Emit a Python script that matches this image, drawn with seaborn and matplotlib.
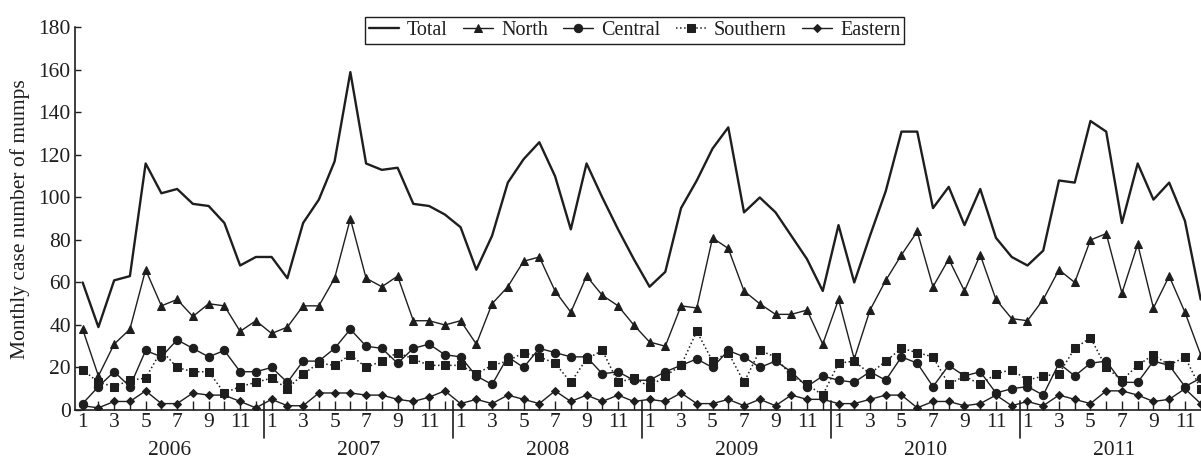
import numpy as np
import pandas as pd
import seaborn as sns
import matplotlib.pyplot as plt
import matplotlib.transforms as mtransforms

# Monthly mumps cases, Jan 2006 - Dec 2011
years = ['2006', '2007', '2008', '2009', '2010', '2011']
month_labels = ['1', '', '3', '', '5', '', '7', '', '9', '', '11', '']

total = [60, 39, 61, 63, 116, 102, 104, 97, 96, 88, 68, 72,
         72, 62, 88, 99, 117, 159, 116, 113, 114, 97, 96, 92,
         86, 66, 82, 107, 118, 126, 110, 85, 116, 100, 85, 71,
         58, 65, 95, 108, 123, 133, 93, 100, 93, 82, 71, 56,
         87, 60, 82, 103, 131, 131, 95, 105, 87, 104, 81, 72,
         68, 75, 108, 107, 136, 131, 88, 116, 99, 107, 89, 52]
north = [38, 16, 31, 38, 66, 49, 52, 44, 50, 49, 37, 42,
         36, 39, 49, 49, 62, 90, 62, 58, 63, 42, 42, 40,
         42, 31, 50, 58, 70, 72, 56, 46, 63, 54, 49, 40,
         32, 30, 49, 48, 81, 76, 56, 50, 45, 45, 47, 31,
         52, 24, 47, 61, 73, 84, 58, 71, 56, 73, 52, 43,
         42, 52, 66, 60, 80, 83, 55, 78, 48, 63, 46, 26]
central = [3, 11, 18, 11, 28, 25, 33, 29, 25, 28, 18, 18,
           20, 13, 23, 23, 29, 38, 30, 29, 22, 29, 31, 26,
           25, 16, 12, 25, 20, 29, 27, 25, 25, 17, 18, 14,
           14, 18, 21, 24, 20, 28, 25, 20, 23, 18, 11, 16,
           14, 13, 18, 14, 25, 22, 11, 21, 16, 18, 8, 10,
           11, 7, 22, 16, 22, 23, 13, 13, 23, 21, 11, 15]
southern = [19, 13, 11, 14, 15, 28, 20, 18, 18, 8, 11, 13,
            15, 10, 17, 22, 21, 26, 20, 23, 27, 24, 21, 21,
            21, 17, 21, 23, 27, 25, 22, 13, 24, 28, 13, 15,
            11, 16, 21, 37, 23, 27, 13, 28, 25, 16, 12, 7,
            22, 23, 17, 23, 29, 27, 25, 12, 16, 12, 17, 19,
            14, 16, 17, 29, 34, 20, 14, 21, 26, 21, 25, 10]
eastern = [2, 1, 4, 4, 9, 3, 3, 8, 7, 7, 4, 1,
           5, 2, 2, 8, 8, 8, 7, 7, 5, 4, 6, 9,
           3, 5, 3, 7, 5, 3, 9, 4, 7, 4, 7, 4,
           5, 4, 8, 3, 3, 5, 2, 5, 2, 7, 5, 5,
           3, 3, 5, 7, 7, 1, 4, 4, 2, 3, 7, 2,
           4, 2, 7, 5, 3, 9, 9, 7, 4, 5, 10, 3]

df = pd.DataFrame({'month': np.arange(len(total)), 'Total': total, 'North': north,
                   'Central': central, 'Southern': southern, 'Eastern': eastern})

sns.set_style('ticks')
plt.rcParams['font.family'] = ['Liberation Serif', 'DejaVu Serif']
plt.rcParams['font.size'] = 15.5
ink = '#1e1e1e'

fig = plt.figure(figsize=(12.01, 4.59), dpi=100)
ax = fig.add_axes([0.0624, 0.1068, 0.9376, 0.8333])

# series: (line style, marker, marker size, line width)
styles = {
    'Total': ('-', None, 0, 1.7),
    'North': ('-', '^', 6, 1.0),
    'Central': ('-', 'o', 6, 1.0),
    'Southern': (':', 's', 6, 1.1),
    'Eastern': ('-', 'D', 4.2, 1.0),
}
for name, (ls, mk, ms, lw) in styles.items():
    sns.lineplot(data=df, x='month', y=name, ax=ax, color=ink, linestyle=ls,
                 marker=mk, markersize=ms, markeredgecolor=ink, linewidth=lw,
                 label=name)

ax.set_xlim(-0.49, 71.02)
ax.set_ylim(0, 180)
ax.set_yticks(range(0, 181, 20))
ax.set_xticks(df['month'])
ax.set_xticklabels(month_labels * len(years))
ax.tick_params(axis='x', direction='in', length=6.5, width=1, pad=2, colors=ink)
ax.tick_params(axis='y', direction='in', length=4.5, width=1, pad=3, colors=ink)
ax.set_xlabel('')
ax.set_ylabel('Monthly case number of mumps', color=ink, labelpad=6)
sns.despine(ax=ax)
for s in ['left', 'bottom']:
    ax.spines[s].set_color(ink)
    ax.spines[s].set_linewidth(1.2)

# year separators and year labels under the axis
trans = mtransforms.blended_transform_factory(ax.transData, ax.transAxes)
for i, yr in enumerate(years):
    ax.text(12 * i + 5.5, -0.105, yr, transform=trans, ha='center', va='center',
            color=ink)
    if i > 0:
        ax.plot([12 * i - 0.5] * 2, [0.024, -0.073], transform=trans,
                color=ink, lw=1.2, clip_on=False)

leg = ax.legend(loc='center', bbox_to_anchor=(0.497, 0.993), ncol=5,
                frameon=True, fancybox=False, edgecolor=ink, framealpha=1,
                fontsize=14.5, handlelength=1.5, handletextpad=0.4,
                columnspacing=0.75, borderpad=0.2, borderaxespad=0)
leg.get_frame().set_linewidth(1.0)
for t in leg.get_texts():
    t.set_color(ink)

fig.savefig('out.png', dpi=100)
